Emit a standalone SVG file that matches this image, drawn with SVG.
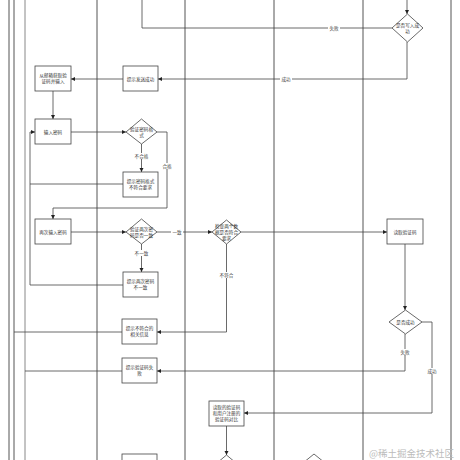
<svg xmlns="http://www.w3.org/2000/svg" width="460" height="460" viewBox="0 0 460 460">
<defs>
<marker id="arr" markerUnits="userSpaceOnUse" markerWidth="5" markerHeight="5" refX="4" refY="2" orient="auto"><path d="M0,0 L4,2 L0,4 z" fill="#222"/></marker>
<style>
.lane{stroke:#555;stroke-width:1;fill:none}
.box{fill:#fff;stroke:#444;stroke-width:0.8}
.c{fill:none;stroke:#444;stroke-width:0.8}
.t{font-family:"Noto Sans CJK SC","Noto Sans",sans-serif;font-size:4.6px;fill:#333;text-anchor:middle}
.lb{font-family:"Noto Sans CJK SC","Noto Sans",sans-serif;font-size:4.6px;fill:#444;text-anchor:middle}
.bg{fill:#fff;stroke:none}
.wm{font-family:"Noto Sans CJK SC","Noto Sans",sans-serif;font-size:9.5px;fill:#bbb}
</style>
</defs>
<rect width="460" height="460" fill="#fff"/>
<g id="lanes">
<line class="lane" x1="9" y1="0" x2="9" y2="460"/>
<line class="lane" x1="14" y1="0" x2="14" y2="460"/>
<line class="lane" x1="25" y1="0" x2="25" y2="460" style="stroke:#888"/>
<line class="lane" x1="97" y1="0" x2="97" y2="460"/>
<line class="lane" x1="185" y1="0" x2="185" y2="460"/>
<line class="lane" x1="274" y1="0" x2="274" y2="460"/>
<line class="lane" x1="363" y1="0" x2="363" y2="460"/>
<line class="lane" x1="451" y1="0" x2="451" y2="460"/>
</g>
<g id="connectors">
<path class="c" d="M407,0 V14" marker-end="url(#arr)"/>
<path class="c" d="M392,28 H142 V0"/>
<path class="c" d="M407,42 V79 H158" marker-end="url(#arr)"/>
<path class="c" d="M123,79 H71" marker-end="url(#arr)"/>
<path class="c" d="M53,91 V119" marker-end="url(#arr)"/>
<path class="c" d="M71,132 H126" marker-end="url(#arr)"/>
<path class="c" d="M141.5,144 V172" marker-end="url(#arr)"/>
<path class="c" d="M157,132 H167 V208 H53 V219" marker-end="url(#arr)"/>
<path class="c" d="M123,184 H30 V132 H35" marker-end="url(#arr)"/>
<path class="c" d="M123,285 H30 V184"/>
<path class="c" d="M71,232 H126" marker-end="url(#arr)"/>
<path class="c" d="M157,232 H212" marker-end="url(#arr)"/>
<path class="c" d="M141.5,244 V272" marker-end="url(#arr)"/>
<path class="c" d="M241,232 H387" marker-end="url(#arr)"/>
<path class="c" d="M226.5,244 V332 H157" marker-end="url(#arr)"/>
<path class="c" d="M405,244 V310" marker-end="url(#arr)"/>
<path class="c" d="M405,334 V371 H157" marker-end="url(#arr)"/>
<path class="c" d="M422,322 H432 V413 H244" marker-end="url(#arr)"/>
<path class="c" d="M226.5,426 V455" marker-end="url(#arr)"/>
<path class="c" d="M122,332 H14"/>
<path class="c" d="M122,371 H25"/>
<rect class="bg" x="328" y="25" width="12" height="6"/>
<text class="lb" x="334" y="30">失败</text>
<rect class="bg" x="280" y="76" width="12" height="6"/>
<text class="lb" x="286" y="81">成功</text>
<rect class="bg" x="133.5" y="153" width="16" height="6"/>
<text class="lb" x="141.5" y="158">不合格</text>
<rect class="bg" x="161" y="163" width="12" height="6"/>
<text class="lb" x="167" y="168">合格</text>
<rect class="bg" x="171" y="229" width="12" height="6"/>
<text class="lb" x="177" y="234">一致</text>
<rect class="bg" x="133.5" y="250" width="16" height="6"/>
<text class="lb" x="141.5" y="255">不一致</text>
<rect class="bg" x="218.5" y="272" width="16" height="6"/>
<text class="lb" x="226.5" y="277">不符合</text>
<rect class="bg" x="399" y="349" width="12" height="6"/>
<text class="lb" x="405" y="354">失败</text>
<rect class="bg" x="426" y="368" width="12" height="6"/>
<text class="lb" x="432" y="373">成功</text>
</g>
<g id="n-write">
<polygon class="box" points="407.5,14 423,28 407.5,42 392,28"/>
<text class="t" x="407.5" y="27">是否写入成</text>
<text class="t" x="407.5" y="33">功</text>
</g>
<g id="n-getcode">
<rect class="box" x="35" y="66" width="36" height="25"/>
<text class="t" x="53" y="77">从邮箱获取验</text>
<text class="t" x="53" y="83">证码并输入</text>
</g>
<g id="n-sendok">
<rect class="box" x="123" y="66" width="35" height="25"/>
<text class="t" x="140.5" y="80.5">提示发送成功</text>
</g>
<g id="n-pwd">
<rect class="box" x="35" y="119" width="36" height="25"/>
<text class="t" x="53" y="133.5">输入密码</text>
</g>
<g id="n-checkfmt">
<polygon class="box" points="141.5,119 157,132 141.5,144 126,132"/>
<text class="t" x="141.5" y="131">验证密码格</text>
<text class="t" x="141.5" y="137">式</text>
</g>
<g id="n-fmterr">
<rect class="box" x="123" y="172" width="35" height="25"/>
<text class="t" x="140.5" y="183">提示密码格式</text>
<text class="t" x="140.5" y="189">不符合要求</text>
</g>
<g id="n-pwd2">
<rect class="box" x="35" y="219" width="36" height="25"/>
<text class="t" x="53" y="233.5">再次输入密码</text>
</g>
<g id="n-same">
<polygon class="box" points="141.5,219 157,232 141.5,244 126,232"/>
<text class="t" x="141.5" y="231">验证两次密</text>
<text class="t" x="141.5" y="237">码是否一致</text>
</g>
<g id="n-diff">
<rect class="box" x="123" y="272" width="35" height="25"/>
<text class="t" x="140.5" y="283">提示两次密码</text>
<text class="t" x="140.5" y="289">不一致</text>
</g>
<g id="n-checkdata">
<polygon class="box" points="226.5,220 241,232 226.5,244 212,232"/>
<text class="t" x="226.5" y="228">检查两个数</text>
<text class="t" x="226.5" y="234">据是否符合</text>
<text class="t" x="226.5" y="240">要求</text>
</g>
<g id="n-readcode">
<rect class="box" x="387" y="219" width="36" height="25"/>
<text class="t" x="405" y="233.5">读取验证码</text>
</g>
<g id="n-readok">
<polygon class="box" points="405.5,310 422,322 405.5,334 389,322"/>
<text class="t" x="405.5" y="323.5">是否成功</text>
</g>
<g id="n-notmatch">
<rect class="box" x="122" y="319" width="35" height="25"/>
<text class="t" x="139.5" y="330">提示不符合的</text>
<text class="t" x="139.5" y="336">相关信息</text>
</g>
<g id="n-codefail">
<rect class="box" x="122" y="358" width="35" height="25"/>
<text class="t" x="139.5" y="369">提示验证码失</text>
<text class="t" x="139.5" y="375">败</text>
</g>
<g id="n-compare">
<rect class="box" x="209" y="401" width="35" height="25"/>
<text class="t" x="226.5" y="409">读取的验证码</text>
<text class="t" x="226.5" y="415">和用户注册的</text>
<text class="t" x="226.5" y="421">验证码对比</text>
</g>
<g id="n-bottom1">
<rect class="box" x="122" y="454" width="35" height="25"/>
</g>
<g id="n-bottom2">
<polygon class="box" points="226.5,455 242,468 226.5,481 211,468"/>
</g>
<g id="n-bottom3">
<polygon class="box" points="314,454 330,467 314,480 298,467"/>
</g>
<text class="wm" x="369" y="457">@稀土掘金技术社区</text>
</svg>
